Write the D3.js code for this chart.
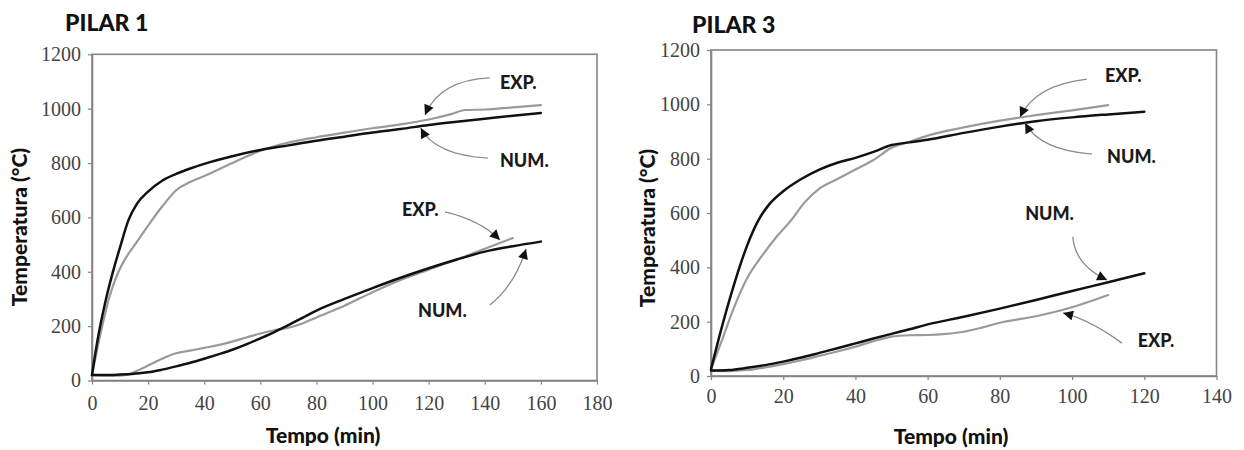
<!DOCTYPE html>
<html><head><meta charset="utf-8">
<script src="https://cdn.jsdelivr.net/npm/d3@7"></script>
<style>
body{margin:0;background:#fff;}
svg{display:block;}
</style></head>
<body>
<svg id="chart" width="1244" height="450"></svg>
<script>
// ---------- DATA ----------
const chartTitles = ["PILAR 1", "PILAR 3"];
const yTicks = [0, 200, 400, 600, 800, 1000, 1200];
const xTicks1 = [0, 20, 40, 60, 80, 100, 120, 140, 160, 180];
const xTicks3 = [0, 20, 40, 60, 80, 100, 120, 140];
const xTitle = "Tempo (min)";
const yTitle = "Temperatura (°C)";

// PILAR 1 - upper curves
const p1UpNumT = [0,2,5,8,10,13,16,20,25,30,35,40,50,60,70,80,90,100,110,120,130,140,150,160];
const p1UpNumV = [20,150,300,420,490,590,650,695,735,760,780,797,825,848,865,882,897,912,925,940,952,963,974,984];
const p1UpExpT = [0,3,6,9,12,16,20,25,30,35,40,50,60,70,80,90,100,110,120,128,133,140,150,160];
const p1UpExpV = [20,170,300,390,450,510,570,640,700,730,752,800,845,875,895,912,928,942,960,980,995,997,1005,1013];
// PILAR 1 - lower curves
const p1LoNumT = [0,5,10,15,20,25,30,35,40,45,50,55,60,65,70,75,80,90,100,110,120,130,140,150,160];
const p1LoNumV = [20,20,22,25,30,40,52,65,80,96,113,133,155,178,204,230,257,300,340,378,413,445,474,494,511];
const p1LoExpT = [0,5,10,13,17,20,25,30,35,40,45,50,55,60,65,70,75,80,90,100,110,120,130,140,150];
const p1LoExpV = [20,18,18,22,40,55,80,100,110,120,130,143,158,173,185,194,210,232,275,325,370,408,445,485,524];

// PILAR 3 - upper curves
const p3UpNumT = [0,3,6,10,13,16,20,25,30,35,40,45,50,55,60,70,80,90,100,110,120];
const p3UpNumV = [25,180,320,480,570,630,680,725,760,785,803,825,850,860,870,895,918,938,952,963,973];
const p3UpExpT = [0,3,6,10,14,18,22,26,30,35,40,45,50,55,60,70,80,90,100,110];
const p3UpExpV = [25,130,240,360,440,510,570,640,690,725,760,795,840,862,885,915,940,960,978,997];
// PILAR 3 - lower curves
const p3LoNumT = [0,5,10,15,20,25,30,35,40,45,50,55,60,70,80,90,100,110,120];
const p3LoNumV = [20,22,30,40,53,68,85,102,120,138,155,172,190,218,248,280,313,345,378];
const p3LoExpT = [0,5,10,15,20,25,30,35,40,45,50,55,60,65,70,75,80,90,100,110];
const p3LoExpV = [20,18,22,32,44,58,74,90,108,128,145,150,151,155,163,178,196,220,253,298];

// Annotations (label position, arrow start, control, tip) in data units
const p1Notes = [
  {text:"EXP.", lt:145.4, lv:1094, s:[141.8,1113], c:[124,1105], e:[118.7,977]},
  {text:"NUM.", lt:145.4, lv:808,  s:[141.1,818],  c:[122.2,830], e:[117.2,929]},
  {text:"EXP.", lt:110.5, lv:627,  s:[125.8,620],  c:[138.3,590], e:[145.4,517]},
  {text:"NUM.", lt:116.2, lv:256,  s:[141.8,278],  c:[150.7,351], e:[154.7,484]}
];
const p3Notes = [
  {text:"EXP.", lt:109.1, lv:1104, s:[104.1,1093], c:[89.7,1071], e:[85.6,953]},
  {text:"NUM.", lt:109.7, lv:806,  s:[105.5,817],  c:[91.1,832],  e:[87,931]},
  {text:"NUM.", lt:87,    lv:596,  s:[100.2,512],  c:[100.8,409], e:[109.7,353]},
  {text:"EXP.", lt:118.2, lv:129,  s:[113.8,121],  c:[105,206],   e:[97.5,232]}
];

// ---------- DRAW ----------
const svg = d3.select("#chart");
const defs = svg.append("defs");
defs.append("marker").attr("id","arr").attr("viewBox","0 0 10 10")
  .attr("refX",10).attr("refY",5).attr("markerWidth",12).attr("markerHeight",10)
  .attr("markerUnits","userSpaceOnUse").attr("orient","auto")
  .append("path").attr("d","M0,0 L10,5 L0,10 Z").attr("fill","#111");

function zip(T,V){ return T.map((t,i)=>({t:t,v:V[i]})); }
const sans = "Lato, 'Open Sans', sans-serif";

function drawChart(cfg){
  const g = svg.append("g");
  const x = d3.scaleLinear().domain(cfg.xDomain).range(cfg.xRange);
  const y = d3.scaleLinear().domain([0,1200]).range(cfg.yRange);

  // frame
  g.append("rect").attr("x",cfg.xRange[0]).attr("y",cfg.yRange[1])
    .attr("width",cfg.xRange[1]-cfg.xRange[0]).attr("height",cfg.yRange[0]-cfg.yRange[1])
    .attr("fill","none").attr("stroke","#858585").attr("stroke-width",1.6);

  const xAxis = g.append("g").attr("transform",`translate(0,${cfg.yRange[0]})`)
    .call(d3.axisBottom(x).tickValues(cfg.xTicks).tickFormat(d3.format("d")).tickSize(4).tickSizeOuter(0).tickPadding(cfg.xPad));
  const yAxis = g.append("g").attr("transform",`translate(${cfg.xRange[0]},0)`)
    .call(d3.axisLeft(y).tickValues(yTicks).tickFormat(d3.format("d")).tickSize(4).tickSizeOuter(0).tickPadding(7));
  [xAxis,yAxis].forEach(a=>{
    a.select(".domain").attr("stroke","#858585").attr("stroke-width",1.6);
    a.selectAll(".tick line").attr("stroke","#858585").attr("stroke-width",1.2);
    a.selectAll(".tick text").attr("fill","#444").style("font-family","'Liberation Serif','Times New Roman',serif").style("font-size","20px");
  });

  const line = d3.line().x(d=>x(d.t)).y(d=>y(d.v)).curve(d3.curveMonotoneX);
  cfg.series.forEach(s=>{
    g.append("path").datum(zip(s.T,s.V)).attr("d",line)
      .attr("fill","none").attr("stroke",s.color).attr("stroke-width",s.w)
      .attr("stroke-linejoin","round").attr("stroke-linecap","round");
  });

  // annotations
  cfg.notes.forEach(n=>{
    g.append("path")
      .attr("d",`M${x(n.s[0])},${y(n.s[1])} Q${x(n.c[0])},${y(n.c[1])} ${x(n.e[0])},${y(n.e[1])}`)
      .attr("fill","none").attr("stroke","#8a8a8a").attr("stroke-width",1.3)
      .attr("marker-end","url(#arr)");
    g.append("text").attr("x",x(n.lt)).attr("y",y(n.lv)).attr("dy","0.35em")
      .text(n.text).attr("fill","#1a1a1a")
      .style("font-family",sans).style("font-weight","900").style("font-size","18px");
  });

  // titles
  g.append("text").attr("x",cfg.titlePos[0]).attr("y",cfg.titlePos[1]).text(cfg.title)
    .attr("fill","#111").style("font-family",sans).style("font-weight","900").style("font-size","23px");
  g.append("text").attr("x",cfg.xTitleX).attr("y",cfg.xTitleY)
    .attr("text-anchor","middle").text(xTitle).attr("fill","#111")
    .style("font-family",sans).style("font-weight","900").style("font-size","21px");
  g.append("text").attr("transform",`translate(${cfg.yTitleX},${cfg.yTitleY}) rotate(-90)`)
    .attr("text-anchor","middle").text(yTitle).attr("fill","#111")
    .style("font-family",sans).style("font-weight","900").style("font-size","21px");
}

drawChart({
  title: chartTitles[0], titlePos:[65,31],
  xDomain:[0,180], xRange:[92,597], yRange:[380.5,54.3], xTicks:xTicks1, xPad:11,
  xTitleX:323, xTitleY:443, yTitleX:27, yTitleY:227,
  series:[
    {T:p1UpExpT, V:p1UpExpV, color:"#9a9a9a", w:2.2},
    {T:p1LoExpT, V:p1LoExpV, color:"#9a9a9a", w:2.2},
    {T:p1UpNumT, V:p1UpNumV, color:"#111", w:2.5},
    {T:p1LoNumT, V:p1LoNumV, color:"#111", w:2.5}
  ],
  notes:p1Notes
});
drawChart({
  title: chartTitles[1], titlePos:[692,33],
  xDomain:[0,140], xRange:[711,1216.5], yRange:[376,50], xTicks:xTicks3, xPad:9,
  xTitleX:951, xTitleY:444, yTitleX:655, yTitleY:228,
  series:[
    {T:p3UpExpT, V:p3UpExpV, color:"#9a9a9a", w:2.2},
    {T:p3LoExpT, V:p3LoExpV, color:"#9a9a9a", w:2.2},
    {T:p3UpNumT, V:p3UpNumV, color:"#111", w:2.5},
    {T:p3LoNumT, V:p3LoNumV, color:"#111", w:2.5}
  ],
  notes:p3Notes
});
</script>
</body></html>
